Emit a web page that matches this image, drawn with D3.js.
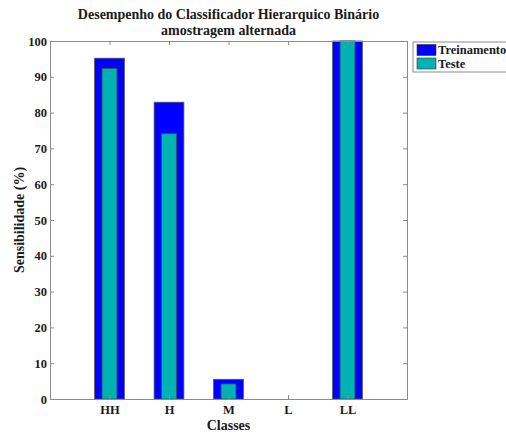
<!DOCTYPE html>
<html>
<head>
<meta charset="utf-8">
<script src="https://cdn.jsdelivr.net/npm/d3@7"></script>
<style>
  body { margin: 0; background: #fff; }
  svg { display: block; }
  text { font-family: "Liberation Serif", "DejaVu Serif", serif; }
</style>
</head>
<body>
<svg id="chart" width="506" height="435"></svg>
<script>
// Sensitivity per class, training vs. test
const classes = ["HH", "H", "M", "L", "LL"];
const treinamento = [95.2, 82.9, 5.5, 0, 100];
const teste = [92.3, 74.1, 4.2, 0, 100];
const yTicks = [0, 10, 20, 30, 40, 50, 60, 70, 80, 90, 100];
const seriesNames = ["Treinamento", "Teste"];
const seriesColors = ["#0000ff", "#00b2b2"];

const svg = d3.select("#chart");
const margin = { left: 50, right: 99, top: 41, bottom: 36 };
const W = 506, H = 435;
const x0 = margin.left, x1 = W - margin.right;
const y0 = H - margin.bottom, y1 = margin.top;

// positions 1..5 on a 0..6 axis
const x = d3.scaleLinear().domain([0, 6]).range([x0, x1]);
const y = d3.scaleLinear().domain([0, 100]).range([y0, y1]);

const g = svg.append("g");

// bars: wide training bar with a narrower test bar inside
const wOuter = x(0.5) - x(0);
const wInner = x(0.25) - x(0);
classes.forEach((c, i) => {
  const cx = x(i + 1);
  if (treinamento[i] > 0) {
    g.append("rect")
      .attr("x", cx - wOuter / 2).attr("width", wOuter)
      .attr("y", y(treinamento[i])).attr("height", y(0) - y(treinamento[i]))
      .attr("fill", seriesColors[0]).attr("stroke", "#555").attr("stroke-width", 0.8);
  }
  if (teste[i] > 0) {
    g.append("rect")
      .attr("x", cx - wInner / 2).attr("width", wInner)
      .attr("y", y(teste[i])).attr("height", y(0) - y(teste[i]))
      .attr("fill", seriesColors[1]).attr("stroke", "#2a5a5a").attr("stroke-width", 0.8);
  }
});

const axisColor = "#8c8c8c";
const tickLen = 4;

// left axis
const yAxis = d3.axisLeft(y).tickValues(yTicks).tickSize(-tickLen).tickPadding(3);
const ya = svg.append("g").attr("transform", `translate(${x0},0)`).call(yAxis);
// right axis ticks (no labels)
const yAxisR = d3.axisRight(y).tickValues(yTicks).tickSize(-tickLen).tickFormat("");
const yr = svg.append("g").attr("transform", `translate(${x1},0)`).call(yAxisR);
// bottom axis
const xAxis = d3.axisBottom(x).tickValues([1, 2, 3, 4, 5]).tickSize(-tickLen).tickPadding(6)
  .tickFormat(d => classes[d - 1]);
const xa = svg.append("g").attr("transform", `translate(0,${y0})`).call(xAxis);
// top axis ticks
const xAxisT = d3.axisTop(x).tickValues([1, 2, 3, 4, 5]).tickSize(-tickLen).tickFormat("");
const xt = svg.append("g").attr("transform", `translate(0,${y1})`).call(xAxisT);

[ya, yr, xa, xt].forEach(a => {
  a.selectAll("path").attr("stroke", axisColor).attr("stroke-width", 1);
  a.selectAll("line").attr("stroke", axisColor);
  a.selectAll("text").attr("fill", "#1a1a1a").style("font-size", "12.5px").style("font-weight", "bold")
    .style("font-family", '"Liberation Serif", serif');
});

// axis labels
svg.append("text").attr("x", (x0 + x1) / 2).attr("y", 430).attr("text-anchor", "middle")
  .style("font-size", "14px").style("font-weight", "bold").attr("fill", "#1a1a1a").text("Classes");
svg.append("text").attr("transform", `translate(24,${(y0 + y1) / 2}) rotate(-90)`)
  .attr("text-anchor", "middle").style("font-size", "14px").style("font-weight", "bold")
  .attr("fill", "#1a1a1a").text("Sensibilidade (%)");

// title
svg.append("text").attr("x", (x0 + x1) / 2).attr("y", 19).attr("text-anchor", "middle")
  .style("font-size", "14px").style("font-weight", "bold").attr("fill", "#1a1a1a")
  .text("Desempenho do Classificador Hierarquico Binário");
svg.append("text").attr("x", (x0 + x1) / 2).attr("y", 35).attr("text-anchor", "middle")
  .style("font-size", "14px").style("font-weight", "bold").attr("fill", "#1a1a1a")
  .text("amostragem alternada");

// legend
const lg = svg.append("g").attr("transform", "translate(413,42)");
lg.append("rect").attr("x", 0).attr("y", 0).attr("width", 100).attr("height", 30)
  .attr("fill", "#fff").attr("stroke", axisColor);
seriesNames.forEach((n, i) => {
  lg.append("rect").attr("x", 4).attr("y", 2.5 + i * 13.5).attr("width", 19).attr("height", 11)
    .attr("fill", seriesColors[i]).attr("stroke", "#333").attr("stroke-width", 0.6);
  lg.append("text").attr("x", 25).attr("y", 12 + i * 13.5)
    .style("font-size", "12.5px").style("font-weight", "bold").attr("fill", "#1a1a1a").text(n);
});
</script>
</body>
</html>
